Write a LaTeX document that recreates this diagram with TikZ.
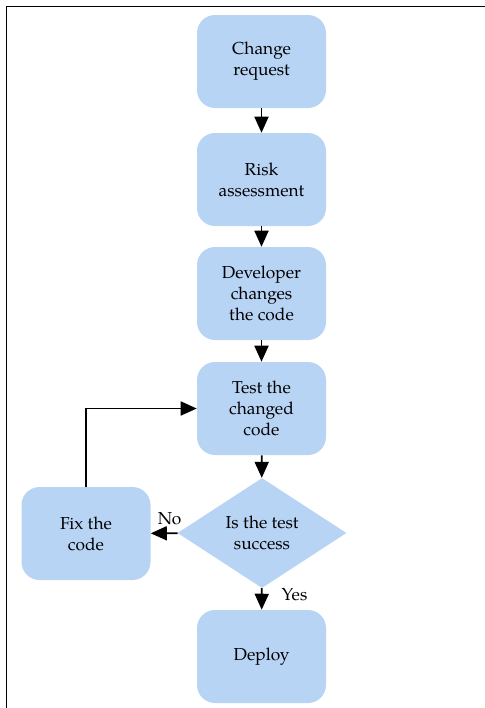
\documentclass[tikz,border=0pt]{standalone}
\usepackage{fontspec}
\setmainfont{TeX Gyre Pagella}
\usetikzlibrary{shapes.geometric,arrows.meta}
\definecolor{boxblue}{RGB}{184,212,245}

\begin{document}
\begin{tikzpicture}[x=0.75pt,y=-0.75pt,font=\fontsize{13}{15.75}\selectfont,
  stepbox/.style={fill=boxblue,rounded corners=13.5pt,minimum width=96.75pt,
    minimum height=69.75pt,align=center,inner sep=0pt},
  decision/.style={diamond,fill=boxblue,aspect=1.54,minimum width=126.75pt,
    minimum height=82.5pt,align=center,inner sep=0pt},
  flow/.style={line width=1.3pt,-{Triangle[width=10.5pt,length=12pt]}}]

\useasboundingbox (0,0) rectangle (485,708);
\draw[line width=0.8pt] (485,6.5) -- (6.5,6.5) -- (6.5,708);

\node[stepbox] (request) at (261.5,61.5) {Change\\request};
\node[stepbox] (risk) at (261.5,179.5) {Risk\\assessment};
\node[stepbox] (dev) at (261.5,293.5) {Developer\\changes\\the code};
\node[stepbox] (test) at (261.5,408.5) {Test the\\changed\\code};
\node[decision] (success) at (262,533) {Is the test\\success};
\node[stepbox] (fix) at (86,533.5) {Fix the\\code};
\node[stepbox] (deploy) at (261.5,656.5) {Deploy};

\draw[flow] (request) -- (risk);
\draw[flow] (risk) -- (dev);
\draw[flow] (dev) -- (test);
\draw[flow] (test) -- (success);
\draw[flow] (success) -- (fix) node[pos=0.3,above,yshift=2pt] (no) {No};
\draw[flow] (success) -- (deploy) node[pos=0.3,right,xshift=11pt] (yes) {Yes};
\draw[flow] (fix.north) |- (test.west);

\end{tikzpicture}
\end{document}
